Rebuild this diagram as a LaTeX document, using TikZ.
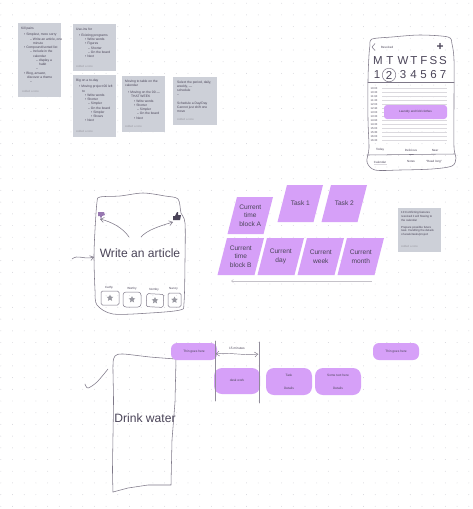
\documentclass[tikz,border=0pt]{standalone}
\usepackage{fontspec}
\setmainfont{Liberation Sans}
\usetikzlibrary{shapes.geometric,arrows.meta}
\definecolor{notegray}{HTML}{CDD0D8}
\definecolor{lilac}{HTML}{D6A0F8}
\definecolor{ink}{HTML}{4A4458}
\definecolor{sketch}{HTML}{7E7888}
\definecolor{griddot}{HTML}{D4D4DA}
\definecolor{foot}{HTML}{9A9AA2}
\tikzset{
  notebox/.style={fill=notegray,draw=none,anchor=north west,minimum width=43pt,inner sep=0pt},
  notetext/.style={anchor=north west,align=left,text=ink,font=\fontsize{3.3}{4.25}\selectfont,inner sep=0pt},
  notefoot/.style={anchor=west,text=foot,font=\fontsize{2.8}{3}\selectfont,inner sep=0pt},
  sketchline/.style={draw=sketch,line width=0.55pt,line cap=round,line join=round},
  thinrule/.style={draw=sketch!28,line width=0.35pt},
  para/.style={fill=lilac,draw=none},
  paratext/.style={align=center,text=ink,font=\fontsize{6.6}{8.6}\selectfont,inner sep=0pt},
  pillbox/.style={fill=lilac,draw=none,rounded corners=6pt,inner sep=0pt},
  pilltext/.style={text=ink,font=\fontsize{3.2}{4}\selectfont,inner sep=0pt},
  bigword/.style={text=ink,font=\fontsize{12.1}{15}\selectfont,inner sep=0pt},
  weekday/.style={text=ink,font=\fontsize{11.5}{13}\selectfont,inner sep=0pt},
  tiny/.style={text=ink,font=\fontsize{3}{3.5}\selectfont,inner sep=0pt},
  sketchtip/.style={-{Straight Barb[length=3.5pt,width=5pt]}},
  starmark/.style={star,star points=5,star point ratio=2.1,fill=foot,draw=none,minimum size=7pt,inner sep=0pt},
  smallbox/.style={draw=sketch,line width=0.5pt,rounded corners=1.5pt,inner sep=0pt}
}
\newcommand{\paral}[6]{%
  \fill[para] (#2,#3) -- (#2+#4,#3) -- (#2+#4-9.5,#3+37) -- (#2-9.5,#3+37) -- cycle;
  \node[paratext] (#1) at (#2+#4/2-4.7,#3+18.5) {#6};}
\newcommand{\pt}{\hspace*{3pt}}
\newcommand{\bu}{\textbullet\ }
\begin{document}
\begin{tikzpicture}[x=1pt,y=-1pt]
\useasboundingbox (0,0) rectangle (473,509);
\fill[white] (0,0) rectangle (473,509);
% dotted canvas
\foreach \i in {0,...,40}{\foreach \j in {0,...,43}{
  \fill[griddot] (0.8+11.7*\i,3.2+11.7*\j) circle (0.45);}}

% sticky notes
\node[notebox,minimum height=74pt] (n1) at (18,23) {};
\node[notetext] (n1t) at (21,27) {Kill pairs\\[2pt]
\pt\bu Simplest, more sorry\\
\pt\pt\pt-- Write an article, one\\
\pt\pt\pt\pt minute\\
\pt\bu Compound/sorted list\\
\pt\pt\pt-- Include in the\\
\pt\pt\pt\pt calendar\\
\pt\pt\pt\pt\pt-- display a\\
\pt\pt\pt\pt\pt\pt habit\\
\pt\pt\pt\pt\pt--\\
\pt\bu Blog, answer,\\
\pt\pt discover a theme\\
\pt\pt\pt--};
\node[notefoot] (n1f) at (22,91.5) {Added a note};

\node[notebox,minimum height=47pt] (n2) at (73,24) {};
\node[notetext] (n2t) at (76,27.5) {Use-ins for\\[2pt]
\pt\bu Existing programs\\
\pt\pt\pt\bu Write words\\
\pt\pt\pt\bu Figures\\
\pt\pt\pt\pt-- Shorter\\
\pt\pt\pt\pt-- On the board\\
\pt\pt\pt\bu Next};
\node[notefoot] (n2f) at (76,66) {Added a note};

\node[notebox,minimum height=62pt] (n3) at (73,75) {};
\node[notetext] (n3t) at (76,79) {Big on a to-day\\[2pt]
\pt\bu Moving project 00 left\\
\pt\pt to\\
\pt\pt\pt\bu Write words\\
\pt\pt\pt\bu Shorter\\
\pt\pt\pt\pt-- Simpler\\
\pt\pt\pt\pt-- On the board\\
\pt\pt\pt\pt\pt\bu Simpler\\
\pt\pt\pt\pt\pt\bu Shows\\
\pt\pt\pt\bu Next};
\node[notefoot] (n3f) at (76,131) {Added a note};

\node[notebox,minimum height=56pt] (n4) at (122,76) {};
\node[notetext] (n4t) at (125,79.5) {Moving to table on the\\
calendar\\[3pt]
\pt\bu Moving on the 00 ---\\
\pt\pt THAT WEEK\\
\pt\pt\pt\bu Write words\\
\pt\pt\pt\bu Shorter\\
\pt\pt\pt\pt-- Simpler\\
\pt\pt\pt\pt-- On the board\\
\pt\pt\pt\bu Next};
\node[notefoot] (n4f) at (125,126) {Added a note};

\node[notebox,minimum width=44pt,minimum height=48pt] (n5) at (173,77) {};
\node[notetext] (n5t) at (177,80.5) {Select the period, daily,\\
weekly, ---\\
schedule\\
--\\[4pt]
Schedule a Day/Day\\
Cannot just shift one\\
move};
\node[notefoot] (n5f) at (177,119) {Added a note};

\node[notebox,minimum height=44pt] (n6) at (398,208) {};
\node[notetext,font=\fontsize{2.9}{3.9}\selectfont] (n6t) at (401,211) {10 Conflicting features\\
resolved it will flowing to\\
the calendar\\[3pt]
Prepare possible future\\
task. Handling the details\\
of week/tasks/project};
\node[notefoot] (n6f) at (401,246) {Added a note};

% calendar sketch
\draw[sketchline] plot[smooth] coordinates {(370,45) (372,39) (392,37) (420,35) (448,37) (452,44) (454,60) (454,100) (454,147) (456,158) (452,166) (432,169) (400,170) (375,170) (367,162) (369,148) (368,120) (368,80) (369,55) (370,45)};
\coordinate (backtip) at (372,47);
\coordinate (backtop) at (375,43.5);
\coordinate (backbot) at (375,50.5);
\draw[sketchline] (backtop) -- (backtip) -- (backbot);
\node[tiny] (resolved) at (387,47) {Resolved};
\node[text=ink,font=\fontsize{12}{12}\selectfont\bfseries,inner sep=0pt] (plus) at (440,47) {+};
\foreach \n/\x/\t in {a/378/M,b/390/T,c/403/W,d/414/T,e/424/F,f/433.5/S,g/443/S}{
  \node[weekday] (day\n) at (\x,61) {\t};}
\foreach \n/\x/\t in {a/377/1,b/389/2,c/403/3,d/413.5/4,e/423.5/5,f/433.5/6,g/443/7}{
  \node[weekday] (num\n) at (\x,75) {\t};}
\node[draw=sketch,line width=0.5pt,circle,minimum size=13.5pt,inner sep=0pt] (ring) at (389,75) {};
\coordinate (ruleL) at (368,82);
\coordinate (ruleR) at (454,82);
\draw[sketchline] (ruleL) -- (ruleR);
\foreach \k [count=\c from 0] in {10:00,10:30,11:00,11:30,12:00,12:30,13:00,13:30,14:00,14:30,15:00,15:30,16:00,16:30}{
  \node[tiny,font=\fontsize{2.7}{3}\selectfont] (hour\c) at (374,88.5+\c*4) {\k};
  \draw[thinrule] (382,88.5+\c*4) -- (447,88.5+\c*4);}
\node[pillbox,rounded corners=3pt,minimum width=63pt,minimum height=14pt] (slot) at (415.5,112) {};
\node[tiny,text=ink!90!black] (slott) at (415.5,112) {Laundry and fold clothes};
\node[tiny] (today) at (380,150) {Today};
\node[tiny] (deliv) at (411,150) {Delicious};
\node[tiny] (near) at (435,150) {Near};
\coordinate (footL) at (367,155);
\coordinate (footR) at (455,154);
\draw[sketchline] (footL) -- (footR);
\node[tiny] (calt) at (380,162) {Calendar};
\node[tiny] (notest) at (411,161) {Notes};
\node[tiny] (readt) at (434,162) {``Read long''};
\draw[thinrule] (374,164.5) -- (387,164.5);

% article sketch
\draw[sketchline] plot[smooth cycle] coordinates {(97,202) (100,197) (120,196) (143,193) (165,196) (178,199) (181,213) (185,223) (185,260) (184,303) (180,310) (150,313) (113,314) (97,305) (95,290) (94,257) (95,230)};
\node[bigword] (write) at (140,253) {Write an article};
\coordinate (armL) at (129,237);
\coordinate (armR) at (141,237);
\coordinate (dn) at (100,219);
\coordinate (up) at (173,222);
\draw[sketchline,sketchtip] (armL) .. controls (123,228) and (112,222) .. (dn);
\draw[sketchline,sketchtip] (armR) .. controls (147,230) and (160,226) .. (up);
\coordinate (sw) at (72,259);
\coordinate (se) at (94,257);
\draw[sketchline,sketchtip] (sw) .. controls (78,254) and (84,260) .. (se);
% thumbs
\fill[lilac!55!ink] (98,212) -- (104,212) -- (105,215) -- (102,216) -- (101,219) -- (100,216) -- (98,216) -- cycle;
\fill[ink] (173,216) -- (175,216) -- (177,212) -- (178,212) -- (178,215) -- (181,215) -- (180,220) -- (173,220) -- cycle;
% rated boxes
\node[smallbox,minimum width=18pt,minimum height=14pt] (b1) at (110,298) {};
\node[smallbox,rounded corners=3pt,minimum width=18pt,minimum height=15pt] (b2) at (132,299.5) {};
\node[smallbox,minimum width=17pt,minimum height=13pt,rotate=-3] (b3) at (155,300.5) {};
\node[smallbox,minimum width=13pt,minimum height=14pt] (b4) at (174.5,300) {};
\foreach \b in {1,2,3,4}{\node[starmark] (s\b) at (b\b) {};}
\node[tiny] (lb1) at (109,288) {Cathy};
\node[tiny] (lb2) at (132,288.5) {Worthy};
\node[tiny] (lb3) at (154,290) {Nomby};
\node[tiny] (lb4) at (173.5,289) {Nancy};

% parallelograms
\paral{pa}{237}{197}{36}{37}{Current\\time\\block A}
\paral{pt1}{287}{185}{36}{37}{Task 1}
\paral{pt2}{331}{185}{36}{37}{Task 2}
\paral{pb}{227}{238}{37}{37}{Current\\time\\block B}
\paral{pd}{267}{238}{37}{37}{Current\\day}
\paral{pw}{307}{238}{37}{37}{Current\\week}
\paral{pm}{347}{238}{37}{37}{Current\\month}
\coordinate (axL) at (231,281);
\coordinate (axR) at (372,281);
\draw[draw=sketch!45,line width=0.5pt,-{Straight Barb[length=2pt,width=3pt]}] (axR) -- (axL);

% drink water sketch
\draw[sketchline] plot[smooth] coordinates {(176,359) (150,357) (123,354) (115,356) (113,365) (113.5,400) (113,435) (112.5,470) (113,492)};
\draw[sketchline] (113,492) -- (128,488) -- (148,485) -- (171,485) -- (172,440) -- (175,402) -- (176,359);
\node[bigword] (drink) at (145,418) {Drink water};
\coordinate (ca) at (108,369);
\coordinate (cb) at (85,384);
\draw[sketchline] plot[smooth] coordinates {(ca) (97,382) (88,388) (cb)};

% timeline
\node[pillbox,minimum width=46pt,minimum height=17pt] (p1) at (194,351.5) {};
\node[pilltext] (p1t) at (194,351.5) {Thin goes here};
\node[pillbox,minimum width=46pt,minimum height=17pt] (p5) at (396,351.5) {};
\node[pilltext] (p5t) at (396,351.5) {Thin goes here};
\node[pillbox,minimum width=46pt,minimum height=26pt,rounded corners=8pt] (p2) at (237,381) {};
\node[pilltext] (p2t) at (237,380.5) {desk work};
\node[pillbox,minimum width=46pt,minimum height=27pt,rounded corners=8pt] (p3) at (289,381.5) {};
\node[pilltext] (p3a) at (289,375) {Task};
\node[pilltext] (p3b) at (289,388) {Details};
\node[pillbox,minimum width=46pt,minimum height=27pt,rounded corners=8pt] (p4) at (338,381.5) {};
\node[pilltext] (p4a) at (338,375) {Some text here};
\node[pilltext] (p4b) at (338,388) {Details};
\coordinate (v1a) at (215,341);
\coordinate (v1b) at (215,401);
\coordinate (v2a) at (259,342);
\coordinate (v2b) at (259,403);
\draw[sketchline,draw=sketch!85] (v1a) -- (v1b);
\draw[sketchline,draw=sketch!85] (v2a) -- (v2b);
\coordinate (dl) at (216,354);
\coordinate (dr) at (258,354);
\draw[sketchline,line width=0.45pt,{Straight Barb[length=3pt,width=5pt]}-{Straight Barb[length=3pt,width=5pt]}] (dl) .. controls (230,352) and (245,356) .. (dr);
\node[pilltext] (span) at (237,348) {15 minutes};
\end{tikzpicture}
\end{document}
